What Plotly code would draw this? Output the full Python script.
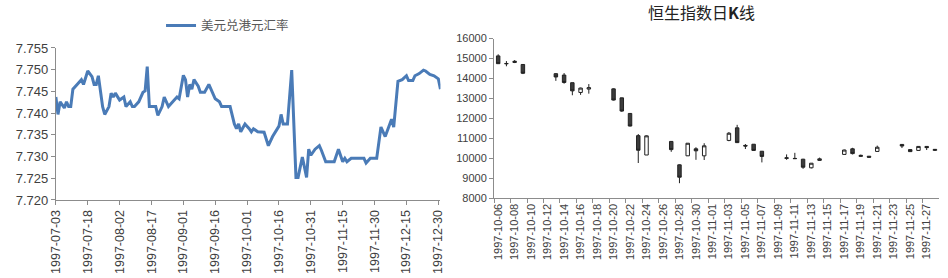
import plotly.graph_objects as go

# ---------------- Left chart: USD/HKD rate ----------------
fx_dates = [
    "1997-07-03", "1997-07-04", "1997-07-05", "1997-07-07", "1997-07-08", "1997-07-09",
    "1997-07-10", "1997-07-11", "1997-07-13", "1997-07-15", "1997-07-16", "1997-07-18",
    "1997-07-20", "1997-07-21", "1997-07-22", "1997-07-23", "1997-07-25", "1997-07-26",
    "1997-07-28", "1997-07-29", "1997-07-30", "1997-07-31", "1997-08-02", "1997-08-04",
    "1997-08-05", "1997-08-07", "1997-08-08", "1997-08-09", "1997-08-11", "1997-08-13",
    "1997-08-14", "1997-08-15", "1997-08-16", "1997-08-19", "1997-08-20", "1997-08-22",
    "1997-08-23", "1997-08-25", "1997-08-27", "1997-08-29", "1997-08-30", "1997-09-01",
    "1997-09-02", "1997-09-03", "1997-09-04", "1997-09-05", "1997-09-06", "1997-09-08",
    "1997-09-09", "1997-09-11", "1997-09-13", "1997-09-15", "1997-09-16", "1997-09-18",
    "1997-09-19", "1997-09-23", "1997-09-25", "1997-09-26", "1997-09-27", "1997-09-28",
    "1997-09-30", "1997-10-02", "1997-10-03", "1997-10-04", "1997-10-06", "1997-10-09",
    "1997-10-11", "1997-10-13", "1997-10-15", "1997-10-16", "1997-10-17", "1997-10-18",
    "1997-10-20", "1997-10-22", "1997-10-24", "1997-10-25", "1997-10-27", "1997-10-29",
    "1997-10-30", "1997-10-31", "1997-11-02", "1997-11-04", "1997-11-05", "1997-11-07",
    "1997-11-11", "1997-11-13", "1997-11-15", "1997-11-16", "1997-11-17", "1997-11-19",
    "1997-11-25", "1997-11-26", "1997-11-28", "1997-12-01", "1997-12-03", "1997-12-05",
    "1997-12-08", "1997-12-09", "1997-12-11", "1997-12-13", "1997-12-15", "1997-12-16",
    "1997-12-18", "1997-12-19", "1997-12-21", "1997-12-23", "1997-12-24", "1997-12-26",
    "1997-12-28", "1997-12-30", "1997-12-31",
]
fx_rates = [
    7.7437, 7.7397, 7.7426, 7.7412, 7.7426, 7.7415,
    7.7415, 7.7455, 7.7466, 7.7477, 7.7466, 7.7497,
    7.7484, 7.7466, 7.7466, 7.7486, 7.7415, 7.7397,
    7.7415, 7.7446, 7.7437, 7.7446, 7.7430, 7.7437,
    7.7415, 7.7426, 7.7415, 7.7415, 7.7426, 7.7448,
    7.7451, 7.7507, 7.7415, 7.7415, 7.7395, 7.7415,
    7.7437, 7.7415, 7.7426, 7.7437, 7.7433, 7.7487,
    7.7477, 7.7437, 7.7466, 7.7455, 7.7477, 7.7462,
    7.7448, 7.7448, 7.7466, 7.7444, 7.7433, 7.7426,
    7.7415, 7.7415, 7.7375, 7.7364, 7.7375, 7.7357,
    7.7375, 7.7364, 7.7357, 7.7364, 7.7357, 7.7356,
    7.7325, 7.7346, 7.7364, 7.7370, 7.7397, 7.7375,
    7.7375, 7.7499, 7.7252, 7.7252, 7.7299, 7.7252,
    7.7317, 7.7303, 7.7317, 7.7325, 7.7314, 7.7288,
    7.7288, 7.7317, 7.7288, 7.7296, 7.7288, 7.7296,
    7.7296, 7.7285, 7.7296, 7.7296, 7.7368, 7.7346,
    7.7386, 7.7368, 7.7473, 7.7477, 7.7486, 7.7475,
    7.7475, 7.7486, 7.7491, 7.7499, 7.7497, 7.7489,
    7.7486, 7.7479, 7.7455,
]
fx_tick_dates = [
    "1997-07-03", "1997-07-18", "1997-08-02", "1997-08-17", "1997-09-01", "1997-09-16",
    "1997-10-01", "1997-10-16", "1997-10-31", "1997-11-15", "1997-11-30", "1997-12-15",
    "1997-12-30",
]
rate_ticks = [7.720, 7.725, 7.730, 7.735, 7.740, 7.745, 7.750, 7.755]
fx_name = "美元兑港元汇率"

# ---------------- Right chart: Hang Seng daily candles ----------------
hsi_dates = [
    "1997-10-06", "1997-10-07", "1997-10-08", "1997-10-09", "1997-10-13", "1997-10-14",
    "1997-10-15", "1997-10-16", "1997-10-17", "1997-10-20", "1997-10-21", "1997-10-22",
    "1997-10-23", "1997-10-24", "1997-10-27", "1997-10-28", "1997-10-29", "1997-10-30",
    "1997-10-31", "1997-11-03", "1997-11-04", "1997-11-05", "1997-11-06", "1997-11-07",
    "1997-11-10", "1997-11-11", "1997-11-12", "1997-11-13", "1997-11-14", "1997-11-17",
    "1997-11-18", "1997-11-19", "1997-11-20", "1997-11-21", "1997-11-24", "1997-11-25",
    "1997-11-26", "1997-11-27", "1997-11-28",
]
hsi_open = [
    15130, 14750, 14800, 14700, 14240, 14170, 13790, 13300, 13470, 13480, 13030, 12250,
    11140, 10170, 10850, 9680, 10130, 10480, 10130, 10900, 11530, 10650, 10710, 10360,
    10000, 10000, 9960, 9530, 9900, 10200, 10480, 10100, 10110, 10350, 10700, 10440,
    10400, 10600, 10400,
]
hsi_high = [
    15210, 14870, 14920, 14720, 14265, 14270, 13790, 13540, 13720, 13500, 13040, 12260,
    11220, 11150, 10870, 9700, 10770, 10560, 10760, 11320, 11680, 10720, 10720, 10370,
    10200, 10280, 9980, 9770, 10040, 10440, 10530, 10190, 10120, 10640, 10720, 10450,
    10610, 10610, 10470,
]
hsi_low = [
    14740, 14610, 14770, 14220, 13880, 13740, 13160, 13180, 13240, 12900, 12330, 11600,
    9770, 10170, 10330, 8760, 10120, 9930, 9920, 10860, 10770, 10470, 10390, 9800,
    9930, 9970, 9480, 9500, 9880, 10190, 10200, 10080, 10040, 10340, 10520, 10330,
    10390, 10420, 10380,
]
hsi_close = [
    14740, 14740, 14860, 14260, 14075, 13800, 13380, 13520, 13540, 12920, 12370, 11620,
    10410, 11130, 10440, 9060, 10760, 10380, 10630, 11260, 10790, 10620, 10400, 10100,
    10030, 9990, 9560, 9760, 9980, 10420, 10240, 10150, 10060, 10560, 10620, 10340,
    10600, 10540, 10450,
]
hsi_tick_dates = [
    "1997-10-06", "1997-10-08", "1997-10-10", "1997-10-12", "1997-10-14", "1997-10-16",
    "1997-10-18", "1997-10-20", "1997-10-22", "1997-10-24", "1997-10-26", "1997-10-28",
    "1997-10-30", "1997-11-01", "1997-11-03", "1997-11-05", "1997-11-07", "1997-11-09",
    "1997-11-11", "1997-11-13", "1997-11-15", "1997-11-17", "1997-11-19", "1997-11-21",
    "1997-11-23", "1997-11-25", "1997-11-27",
]
# slot boundaries (half a day before each labelled day) for tick marks
hsi_tick_bounds = [
    "1997-10-05 12:00", "1997-10-07 12:00", "1997-10-09 12:00", "1997-10-11 12:00",
    "1997-10-13 12:00", "1997-10-15 12:00", "1997-10-17 12:00", "1997-10-19 12:00",
    "1997-10-21 12:00", "1997-10-23 12:00", "1997-10-25 12:00", "1997-10-27 12:00",
    "1997-10-29 12:00", "1997-10-31 12:00", "1997-11-02 12:00", "1997-11-04 12:00",
    "1997-11-06 12:00", "1997-11-08 12:00", "1997-11-10 12:00", "1997-11-12 12:00",
    "1997-11-14 12:00", "1997-11-16 12:00", "1997-11-18 12:00", "1997-11-20 12:00",
    "1997-11-22 12:00", "1997-11-24 12:00", "1997-11-26 12:00",
]
hsi_ticks = [8000, 9000, 10000, 11000, 12000, 13000, 14000, 15000, 16000]
hsi_title = "恒生指数日<b>K</b>线"

W, H = 948, 278
AX = "#8c8c8c"
TXT = "#404040"
FONT = "Liberation Sans, Arial, Noto Sans CJK SC, sans-serif"
CJK = "Noto Sans CJK SC, sans-serif"

fig = go.Figure()

fig.add_trace(go.Scatter(
    x=fx_dates, y=fx_rates, mode="lines", name=fx_name,
    line=dict(color="#4a7bb7", width=3),
    xaxis="x", yaxis="y", showlegend=True,
))

fig.add_trace(go.Candlestick(
    x=hsi_dates, open=hsi_open, high=hsi_high, low=hsi_low, close=hsi_close,
    xaxis="x2", yaxis="y2", showlegend=False,
    increasing=dict(line=dict(color="#222222", width=1), fillcolor="#ffffff"),
    decreasing=dict(line=dict(color="#222222", width=1), fillcolor="#3c3c3c"),
    whiskerwidth=0,
))

fig.update_layout(
    width=W, height=H,
    margin=dict(l=0, r=0, t=0, b=0),
    paper_bgcolor="white", plot_bgcolor="white",
    font=dict(family=FONT, color=TXT),
    boxgap=0.4,
    showlegend=True,
    legend=dict(
        x=156 / W, y=1 - 4 / H, xanchor="left", yanchor="top",
        orientation="h", itemwidth=30,
        font=dict(family=CJK, size=12.5, color="#595959"),
        bgcolor="rgba(0,0,0,0)",
    ),
    title=dict(
        text=hsi_title,
        x=701.5 / W, y=1 - 13 / H, xanchor="center", yanchor="middle",
        font=dict(family=CJK, size=16, color="#222222"),
    ),
    xaxis=dict(
        domain=[49.5 / W, 439 / W], anchor="y", type="date",
        range=["1997-07-03", "1997-12-31"],
        tickmode="array", tickvals=fx_tick_dates, ticktext=fx_tick_dates,
        tickangle=-90, ticks="outside", ticklen=4, tickcolor=AX,
        showline=True, linecolor=AX, linewidth=1,
        showgrid=False, zeroline=False,
        tickfont=dict(size=12.5, color=TXT),
    ),
    yaxis=dict(
        domain=[74 / H, 234.7 / H], anchor="x",
        range=[7.720, 7.755],
        tickmode="array", tickvals=rate_ticks, tickformat=".3f",
        ticks="outside", ticklen=4, tickcolor=AX,
        showline=True, linecolor=AX, linewidth=1,
        showgrid=False, zeroline=False,
        tickfont=dict(size=13, color=TXT),
    ),
    xaxis2=dict(
        domain=[493.3 / W, 944 / W], anchor="y2", type="date",
        range=["1997-10-05 12:00", "1997-11-28 12:00"],
        tickmode="array", tickvals=hsi_tick_dates, ticktext=hsi_tick_dates,
        tickangle=-90, ticks="",
        minor=dict(tickmode="array", tickvals=hsi_tick_bounds, ticks="outside",
                   ticklen=4, tickcolor=AX, showgrid=False),
        showline=True, linecolor=AX, linewidth=1,
        showgrid=False, zeroline=False,
        rangeslider=dict(visible=False),
        tickfont=dict(size=11, color=TXT),
    ),
    yaxis2=dict(
        domain=[75.7 / H, 244.7 / H], anchor="x2",
        range=[8000, 16000],
        tickmode="array", tickvals=hsi_ticks, tickformat="d",
        ticks="outside", ticklen=4, tickcolor=AX,
        showline=True, linecolor=AX, linewidth=1,
        showgrid=False, zeroline=False,
        tickfont=dict(size=11, color=TXT),
    ),
)

fig.write_html("out.html")
